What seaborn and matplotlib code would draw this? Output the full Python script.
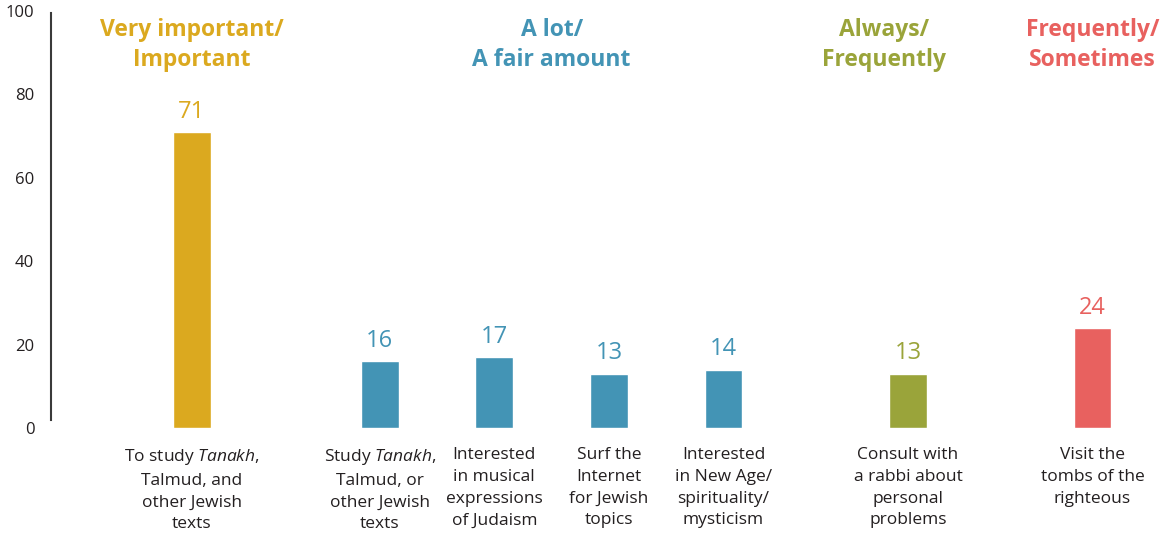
import matplotlib
matplotlib.use("Agg")
import matplotlib.pyplot as plt
import seaborn as sns
import pandas as pd

# data
labels = [
    "To study $\\mathit{Tanakh}$,\nTalmud, and\nother Jewish\ntexts",
    "Study $\\mathit{Tanakh}$,\nTalmud, or\nother Jewish\ntexts",
    "Interested\nin musical\nexpressions\nof Judaism",
    "Surf the\nInternet\nfor Jewish\ntopics",
    "Interested\nin New Age/\nspirituality/\nmysticism",
    "Consult with\na rabbi about\npersonal\nproblems",
    "Visit the\ntombs of the\nrighteous",
]
values = [71, 16, 17, 13, 14, 13, 24]
groups = ["important", "alot", "alot", "alot", "alot", "always", "frequently"]
group_titles = {
    "important": "Very important/\nImportant",
    "alot": "A lot/\nA fair amount",
    "always": "Always/\nFrequently",
    "frequently": "Frequently/\nSometimes",
}

# layout (bar centres along the axis, gaps between groups)
x_pos = [0, 1.64, 2.64, 3.64, 4.64, 6.25, 7.86]
title_x = {"important": 0, "alot": 3.14, "always": 6.04, "frequently": 7.86}
colors = {
    "important": "#DBA91F",
    "alot": "#4394B5",
    "always": "#9AA43A",
    "frequently": "#E8615F",
}

sns.set_theme(style="white")
plt.rcParams["font.family"] = ["Open Sans", "DejaVu Sans"]
plt.rcParams["mathtext.fontset"] = "custom"
plt.rcParams["mathtext.it"] = "Open Sans:italic"
plt.rcParams["mathtext.rm"] = "Open Sans"

df = pd.DataFrame({"x": x_pos, "value": values, "group": groups})

fig = plt.figure(figsize=(11.69, 5.33), dpi=100)
ax = fig.add_axes([51 / 1169, 105 / 533, (1160 - 51) / 1169, 417 / 533])

sns.barplot(data=df, x="x", y="value", hue="group", palette=colors,
            native_scale=True, dodge=False, width=0.33, legend=False,
            saturation=1, ax=ax)

for x, v, g in zip(x_pos, values, groups):
    ax.annotate(str(v), (x, v), xytext=(0, 6), textcoords="offset points",
                ha="center", va="bottom", fontsize=17, color=colors[g])

for g, t in group_titles.items():
    ax.text(title_x[g], 91.8, t, ha="center", va="center", fontsize=16.5,
            fontweight="bold", color=colors[g], linespacing=1.33)

ax.set_xlim(-1.23, 8.45)
ax.set_ylim(0, 100)
ax.set_yticks([0, 20, 40, 60, 80, 100])
ax.set_xticks(x_pos)
ax.set_xticklabels(labels, fontsize=12.5, color="#231f20", linespacing=1.47,
                   va="top")
ax.tick_params(axis="x", length=0, pad=14)
ax.tick_params(axis="y", length=0, pad=12, labelsize=12, labelcolor="#231f20")
for t in ax.get_yticklabels():
    t.set_va("center_baseline")
ax.set_xlabel("")
ax.set_ylabel("")

for s in ["top", "right", "bottom"]:
    ax.spines[s].set_visible(False)
ax.spines["left"].set_color("#3a3a3a")
ax.spines["left"].set_linewidth(1.5)
ax.spines["left"].set_bounds(2, 99.5)

fig.savefig("out.png", dpi=100)
